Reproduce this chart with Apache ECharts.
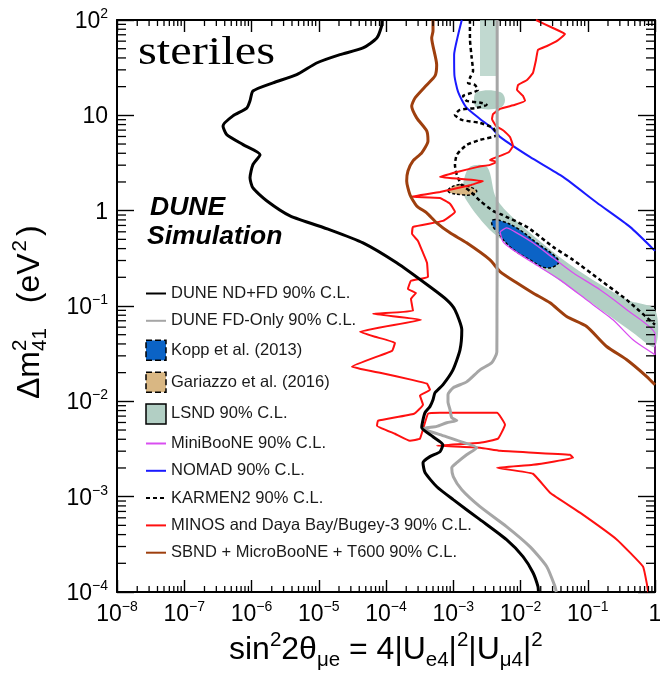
<!DOCTYPE html>
<html><head><meta charset="utf-8">
<script src="https://cdn.jsdelivr.net/npm/echarts@6/dist/echarts.min.js"></script>
<style>html,body{margin:0;padding:0;background:#fff}#c{width:660px;height:677px}</style>
</head><body><div id="c"></div>
<script>
// ---------------- data (x = sin^2 2theta_mue, y = dm^2_41 in eV^2) ----------------
const duneNDFD = [[8.7e-5,100],[8.6e-5,86.5],[7.3e-5,64.7],[4.55e-5,50.9],[2.07e-5,43.3],[9.3e-6,35.4],[4.7e-6,26.7],[2.09e-6,21.9],[1.05e-6,18.0],[9.5e-7,14.2],[8.5e-7,11.9],[5.3e-7,9.86],[3.77e-7,7.74],[4.28e-7,6.28],[7.5e-7,4.93],[1.34e-6,3.87],[1.05e-6,3.04],[9.5e-7,2.21],[1.05e-6,1.73],[1.68e-6,1.27],[3.74e-6,0.882],[1.47e-5,0.63],[4.55e-5,0.46],[1.44e-4,0.284],[4.5e-4,0.159],[8.0e-4,0.116],[1.06e-3,0.0912],[1.34e-3,0.0563],[1.26e-3,0.0347],[9.9e-4,0.0214],[7.0e-4,0.0149],[5.35e-4,0.0123],[5.0e-4,0.0104],[4.5e-4,8.8e-3],[3.8e-4,7.6e-3],[3.55e-4,6.4e-3],[3.4e-4,5.3e-3],[5.0e-4,4.25e-3],[7.0e-4,3.51e-3],[6.35e-4,2.96e-3],[4.5e-4,2.63e-3],[3.55e-4,2.27e-3],[3.8e-4,1.79e-3],[5.7e-4,1.27e-3],[1.0e-3,9.3e-4],[2.5e-3,5.74e-4],[6.2e-3,3.54e-4],[1.09e-2,2.35e-4],[1.53e-2,1.6e-4],[1.82e-2,1.14e-4],[1.85e-2,1.0e-4]];
const duneFD = [[4.5e-3,100],[4.5e-3,0.3],[4.47e-3,0.1],[4.45e-3,0.033],[3.73e-3,0.0254],[2.5e-3,0.0214],[1.58e-3,0.016],[1.0e-3,0.0139],[8.35e-4,0.0117],[8.35e-4,9.9e-3],[8.95e-4,8.17e-3],[9.5e-4,6.73e-3],[1.13e-3,6.3e-3],[8.0e-4,5.97e-3],[5.7e-4,5.46e-3],[3.55e-4,5.16e-3],[6.35e-4,4.47e-3],[1.26e-3,3.8e-3],[2.23e-3,3.26e-3],[1.58e-3,2.75e-3],[1.13e-3,2.27e-3],[9.5e-4,2.01e-3],[1.0e-3,1.62e-3],[1.34e-3,1.18e-3],[2.5e-3,7.85e-4],[6.2e-3,4.85e-4],[1.38e-2,2.99e-4],[2.45e-2,1.85e-4],[3.26e-2,1.14e-4],[3.4e-2,1.0e-4]];
const minosDayaBay = [[1.70e-2,100],[3.04e-2,82.4],[4.59e-2,71.3],[3.49e-2,60.3],[2.48e-2,53.4],[1.82e-2,48.5],[1.70e-2,38.1],[1.53e-2,27.8],[1.25e-2,23.5],[9.2e-3,20.8],[8.87e-3,18.5],[1.09e-2,16.0],[1.17e-2,14.2],[8.28e-3,12.9],[4.96e-3,11.7],[3.90e-3,10.3],[3.77e-3,9.17],[4.32e-3,7.74],[5.69e-3,6.86],[6.98e-3,5.94],[7.73e-3,4.78],[6.75e-3,4.13],[4.96e-3,3.75],[3.52e-3,3.41],[4.47e-3,3.25],[3.52e-3,3.02],[2.33e-3,2.88],[1.14e-3,2.55],[6.35e-4,2.26],[2.77e-3,2.05],[1.84e-3,1.86],[6.35e-4,1.57],[2.35e-4,1.40],[6.35e-4,1.36],[8.95e-4,1.18],[1.06e-3,0.971],[7.04e-4,0.782],[2.52e-4,0.676],[2.44e-4,0.571],[2.99e-4,0.482],[3.55e-4,0.361],[4.07e-4,0.284],[4.21e-4,0.202],[2.35e-4,0.184],[2.12e-4,0.151],[2.79e-4,0.137],[2.35e-4,0.119],[2.52e-4,0.0891],[6.41e-5,0.0828],[3.31e-4,0.0717],[4.11e-5,0.0537],[6.86e-5,0.0475],[1.36e-4,0.0411],[1.23e-4,0.0339],[3.12e-5,0.0231],[8.15e-5,0.0199],[2.44e-4,0.0168],[4.07e-4,0.0153],[4.51e-4,0.0132],[3.2e-4,0.0115],[3.55e-4,9.21e-3],[2.61e-4,7.41e-3],[7.6e-5,6.26e-3],[7.35e-5,5.55e-3],[1.36e-4,4.57e-3],[2.27e-4,3.86e-3],[3.2e-4,4.06e-3],[4.21e-4,7.41e-3],[6.35e-4,7.6e-3],[4.47e-3,7.6e-3],[5.88e-3,5.69e-3],[4.63e-3,4.06e-3],[2.5e-3,3.68e-3],[5.73e-4,3.42e-3],[2.5e-3,3.26e-3],[4.96e-3,3.03e-3],[5.45e-2,2.75e-3],[6.04e-2,2.56e-3],[1.53e-2,2.16e-3],[4.47e-3,2.01e-3],[1.53e-2,1.74e-3],[2.75e-2,1.10e-3],[7.67e-2,6.8e-4],[0.272,3.54e-4],[0.663,1.85e-4],[0.76,1.2e-4],[0.79,1.0e-4]];
const sbnd = [[5.0e-4,100],[5.0e-4,76.7],[4.78e-4,64.8],[5.67e-4,33.8],[5.35e-4,25.9],[4.03e-4,20.8],[2.7e-4,15.2],[2.41e-4,12.5],[2.86e-4,9.4],[4.03e-4,6.86],[4.21e-4,5.39],[3.4e-4,4.04],[2.52e-4,3.33],[2.12e-4,2.61],[2.03e-4,2.05],[2.27e-4,1.47],[2.86e-4,1.12],[4.03e-4,0.948],[5.67e-4,0.745],[8.95e-4,0.585],[1.58e-3,0.46],[3.52e-3,0.305],[4.96e-3,0.23],[8.78e-3,0.175],[1.53e-2,0.137],[2.75e-2,0.108],[4.86e-2,0.0776],[9.64e-2,0.061],[0.191,0.0376],[0.38,0.0273],[0.753,0.0182],[1.0,0.0149]];
const nomad = [[1.34e-3,100],[1.18e-3,69.6],[1.03e-3,43.0],[1.04e-3,26.5],[1.18e-3,17.6],[1.55e-3,12.2],[2.5e-3,9.17],[3.73e-3,7.38],[4.96e-3,5.94],[1.38e-2,3.66],[4.29e-2,2.26],[0.137,1.21],[0.425,0.676],[1.0,0.379]];
const karmen2 = [[1.77e-3,100],[1.77e-3,64.7],[1.88e-3,40.0],[1.97e-3,29.2],[1.77e-3,24.7],[1.66e-3,21.9],[2.1e-3,20.8],[2.33e-3,18.5],[1.88e-3,17.2],[1.4e-3,16.0],[1.58e-3,14.2],[2.65e-3,13.5],[3.14e-3,12.9],[2.23e-3,11.97],[1.26e-3,11.4],[1.06e-3,10.1],[1.34e-3,8.95],[2.5e-3,8.32],[3.9e-3,7.38],[4.47e-3,6.23],[2.5e-3,5.52],[1.58e-3,4.89],[1.13e-3,3.85],[1.06e-3,3.02],[1.13e-3,2.37],[1.34e-3,1.86],[1.77e-3,1.61],[2.5e-3,1.27],[3.9e-3,0.995],[4.96e-3,0.925],[1.24e-2,0.676],[3.04e-2,0.417],[6.04e-2,0.305],[0.152,0.188],[0.38,0.116],[1.0,0.0635]];
const miniboone = [[4.96e-3,0.6],[6.2e-3,0.66],[8.78e-3,0.585],[1.53e-2,0.46],[3.04e-2,0.32],[6.04e-2,0.223],[0.152,0.148],[0.38,0.0912],[1.0,0.0511],[1.0,0.0308],[0.471,0.0442],[0.237,0.0717],[9.57e-2,0.116],[3.87e-2,0.188],[1.53e-2,0.284],[7.73e-3,0.388],[5.49e-3,0.474],[4.96e-3,0.6]];
const lsndMain = [[1.77e-3,2.88],[1.4e-3,1.86],[1.55e-3,1.30],[3.9e-3,0.585],[1.95e-2,0.258],[9.75e-2,0.116],[0.471,0.0524],[1.0,0.0373],[1.0,0.0912],[0.384,0.116],[6.04e-2,0.258],[1.38e-2,0.585],[4.47e-3,1.30],[3.18e-3,2.88]];
const lsndIsland = [[2.26e-3,17.6],[4.96e-3,17.6],[5.88e-3,14.5],[4.96e-3,12.0],[2.26e-3,12.0],[2.04e-3,14.5]];
const lsndTop = [[2.5e-3,100],[4.63e-3,100],[4.63e-3,25.9],[2.5e-3,25.9]];
const kopp = [[3.9e-3,0.801],[5.49e-3,0.769],[8.78e-3,0.66],[1.74e-2,0.46],[3.45e-2,0.32],[3.61e-2,0.277],[2.45e-2,0.251],[1.38e-2,0.305],[6.98e-3,0.417],[4.63e-3,0.585],[3.77e-3,0.71]];
const gariazzo = [[8.35e-4,1.65],[1.13e-3,1.86],[1.58e-3,1.82],[2.23e-3,1.61],[1.88e-3,1.47],[1.34e-3,1.47],[8.95e-4,1.54]];
const legendNames = ['DUNE ND+FD 90% C.L.','DUNE FD-Only 90% C.L.','Kopp et al. (2013)','Gariazzo et al. (2016)','LSND 90% C.L.','MiniBooNE 90% C.L.','NOMAD 90% C.L.','KARMEN2 90% C.L.','MINOS and Daya Bay/Bugey-3 90% C.L.','SBND + MicroBooNE + T600 90% C.L.'];
const xRange = [1e-8, 1];
const yRange = [1e-4, 100];

// ---------------- helpers ----------------
const FONT = '"Liberation Sans", Arial, Helvetica, sans-serif';
const mctx = document.createElement('canvas').getContext('2d');
function tw(t, s) { mctx.font = s + 'px ' + FONT; return mctx.measureText(t).width; }
function run(pieces) {
  let x = 0; const out = [];
  pieces.forEach(p => {
    out.push({type:'text', x: x + (p.dx || 0), y: (p.dy || 0) - 0.3465 * p.s,
      style:{text:p.t, fontSize:p.s, fontFamily:FONT, fill:'#000', align:'left', verticalAlign:'middle'}});
    if (!p.stack) x += tw(p.t, p.s) + (p.gap || 0);
  });
  return out;
}
function expLabel(v) {
  const e = Math.round(Math.log10(v));
  if (e === 0) return '{b|1}';
  if (e === 1) return '{b|10}';
  return '{b|10}{s|' + (e < 0 ? '\u2212' + (-e) : String(e)) + '}';
}
const rich = {
  b:{fontSize:23, fontFamily:FONT, color:'#000', lineHeight:26, verticalAlign:'bottom'},
  s:{fontSize:14, fontFamily:FONT, color:'#000', lineHeight:14, verticalAlign:'top'}
};
const xMinor = [], yMinor = [];
for (let e = -8; e < 0; e++) for (let m = 2; m <= 9; m++) xMinor.push(m * Math.pow(10, e));
for (let e = -4; e < 2; e++) for (let m = 2; m <= 9; m++) yMinor.push(m * Math.pow(10, e));

function lineSeries(name, data, color, width, extra) {
  return Object.assign({type:'line', name, data, symbol:'none', showSymbol:false, smooth:0.2,
    lineStyle:{color, width}, itemStyle:{color}, z:5, silent:true}, extra || {});
}
function polySeries(name, polys, fill, stroke, dash, z, smooth, opacity) {
  const pts = [].concat(...polys);
  return {type:'custom', name, coordinateSystem:'cartesian2d', z, silent:true, data:pts,
    itemStyle:{color:fill},
    renderItem(params, api) {
      if (params.dataIndex !== 0) return null;
      return {type:'group', children: polys.map((poly, i) => ({type:'polygon',
        shape:{points: poly.map(p => api.coord(p)), smooth: smooth[i]},
        style:{fill, stroke: stroke || null, lineWidth: stroke ? 1.5 : 0, lineDash: dash ? [3, 2] : null,
          opacity: (opacity && opacity[i]) || 1}}))};
    }};
}
function axisBase(pos, range, isX, showLabel) {
  return {type:'log', logBase:10, min:range[0], max:range[1], splitNumber: isX ? 8 : 6, position:pos,
    axisLine:{show:true, onZero:false, lineStyle:{color:'#000', width:2}},
    axisTick:{show:true, inside:true, length: isX ? 12 : 17, lineStyle:{color:'#000', width:1.4}},
    splitLine:{show:false}, minorTick:{show:false},
    axisLabel:{show:showLabel, formatter:expLabel, margin: isX ? 8 : 9, rich, interval:0, showMinLabel:true, showMaxLabel:true}};
}
const boxStyle = (c, dash) => ({color:c, borderColor:'#000', borderWidth:1.5, borderType: dash ? 'dashed' : 'solid', opacity:1});

const chart = echarts.init(document.getElementById('c'), null, {renderer:'canvas'});
const option = {
  animation:false, backgroundColor:'#fff',
  grid:{left:117, top:20, width:538, height:572, containLabel:false, outerBoundsMode:'none'},
  xAxis:[axisBase('bottom', xRange, true, true), axisBase('top', xRange, true, false)],
  yAxis:[axisBase('left', yRange, false, true), axisBase('right', yRange, false, false)],
  legend:{orient:'vertical', left:145, top:285, padding:0, itemWidth:20, itemHeight:20, itemGap:10.3,
    selectedMode:false, textStyle:{fontSize:16.5, color:'#1a1a1a', fontFamily:FONT},
    itemStyle:{opacity:0},
    data:[
      {name:legendNames[0]}, {name:legendNames[1]},
      {name:legendNames[2], icon:'rect', itemStyle:boxStyle('#0b63c6', true)},
      {name:legendNames[3], icon:'rect', itemStyle:boxStyle('#d9b783', true)},
      {name:legendNames[4], icon:'rect', itemStyle:boxStyle('#b2cfc4', false)},
      {name:legendNames[5]}, {name:legendNames[6]}, {name:legendNames[7]}, {name:legendNames[8]}, {name:legendNames[9]}
    ]},
  series:[
    polySeries(legendNames[4], [lsndMain, lsndIsland, lsndTop], '#b2cfc4', null, false, 1, [0.3, 0.4, 0], [1, 1, 0.8]),
    polySeries(legendNames[2], [kopp], '#0b63c6', '#000', true, 2, [0.4]),
    polySeries(legendNames[3], [gariazzo], '#d9b783', '#000', true, 2, [0.4]),
    lineSeries(legendNames[5], miniboone, '#d94ef0', 1.3),
    lineSeries(legendNames[6], nomad, '#1a1aff', 2),
    lineSeries(legendNames[7], karmen2, '#000', 2.5, {lineStyle:{color:'#000', width:2.5, type:[4, 3]}}),
    lineSeries(legendNames[8], minosDayaBay, '#ff1010', 2, {smooth:0.1}),
    lineSeries(legendNames[9], sbnd, '#9e3f0e', 3),
    lineSeries(legendNames[1], duneFD, '#a6a6a6', 3),
    lineSeries(legendNames[0], duneNDFD, '#000', 3),
    {type:'custom', coordinateSystem:'cartesian2d', silent:true, z:10, data:xMinor.map(v => [v, 1]),
      renderItem(params, api) {
        const v = api.value(0); const b = api.coord([v, yRange[0]]), t = api.coord([v, yRange[1]]);
        return {type:'group', children:[
          {type:'line', shape:{x1:b[0], y1:b[1], x2:b[0], y2:b[1] - 6}, style:{stroke:'#000', lineWidth:1.3}},
          {type:'line', shape:{x1:t[0], y1:t[1], x2:t[0], y2:t[1] + 6}, style:{stroke:'#000', lineWidth:1.3}}]};
      }},
    {type:'custom', coordinateSystem:'cartesian2d', silent:true, z:10, data:yMinor.map(v => [1e-4, v]),
      renderItem(params, api) {
        const v = api.value(1); const l = api.coord([xRange[0], v]), r = api.coord([xRange[1], v]);
        return {type:'group', children:[
          {type:'line', shape:{x1:l[0], y1:l[1], x2:l[0] + 9, y2:l[1]}, style:{stroke:'#000', lineWidth:1.3}},
          {type:'line', shape:{x1:r[0], y1:r[1], x2:r[0] - 9, y2:r[1]}, style:{stroke:'#000', lineWidth:1.3}}]};
      }}
  ],
  graphic:[
    {type:'text', x:138, y:67 - 0.3375 * 41, scaleX:1.18, style:{text:'steriles', fontSize:41, fontFamily:'"Liberation Serif", "Times New Roman", serif', fill:'#000', verticalAlign:'middle'}},
    {type:'text', x:150, y:217 - 0.3465 * 26.5, style:{text:'DUNE', fontSize:26.5, fontWeight:'bold', fontStyle:'italic', fontFamily:FONT, fill:'#000', verticalAlign:'middle'}},
    {type:'text', x:147, y:246 - 0.3465 * 26.5, style:{text:'Simulation', fontSize:26.5, fontWeight:'bold', fontStyle:'italic', fontFamily:FONT, fill:'#000', verticalAlign:'middle'}},
    {type:'group', x:229, y:661, children: run([
      {t:'sin', s:32}, {t:'2', s:20.5, dy:-14}, {t:'2\u03b8', s:32}, {t:'\u03bce', s:20.5, dy:6},
      {t:' = 4|U', s:32}, {t:'e4', s:20.5, dy:6}, {t:'|', s:32}, {t:'2', s:20.5, dy:-14},
      {t:'|U', s:32}, {t:'\u03bc4', s:20.5, dy:6}, {t:'|', s:32}, {t:'2', s:20.5, dy:-14}])},
    {type:'group', x:41, y:399, rotation:Math.PI / 2, children: run([
      {t:'\u0394m', s:32}, {t:'2', s:20.5, dy:-14, stack:true}, {t:'41', s:20.5, dy:6, gap:16},
      {t:' (eV', s:32, gap:2}, {t:'2', s:20.5, dy:-14, gap:4}, {t:')', s:32}])}
  ]
};
chart.setOption(option);
</script>
</body></html>
